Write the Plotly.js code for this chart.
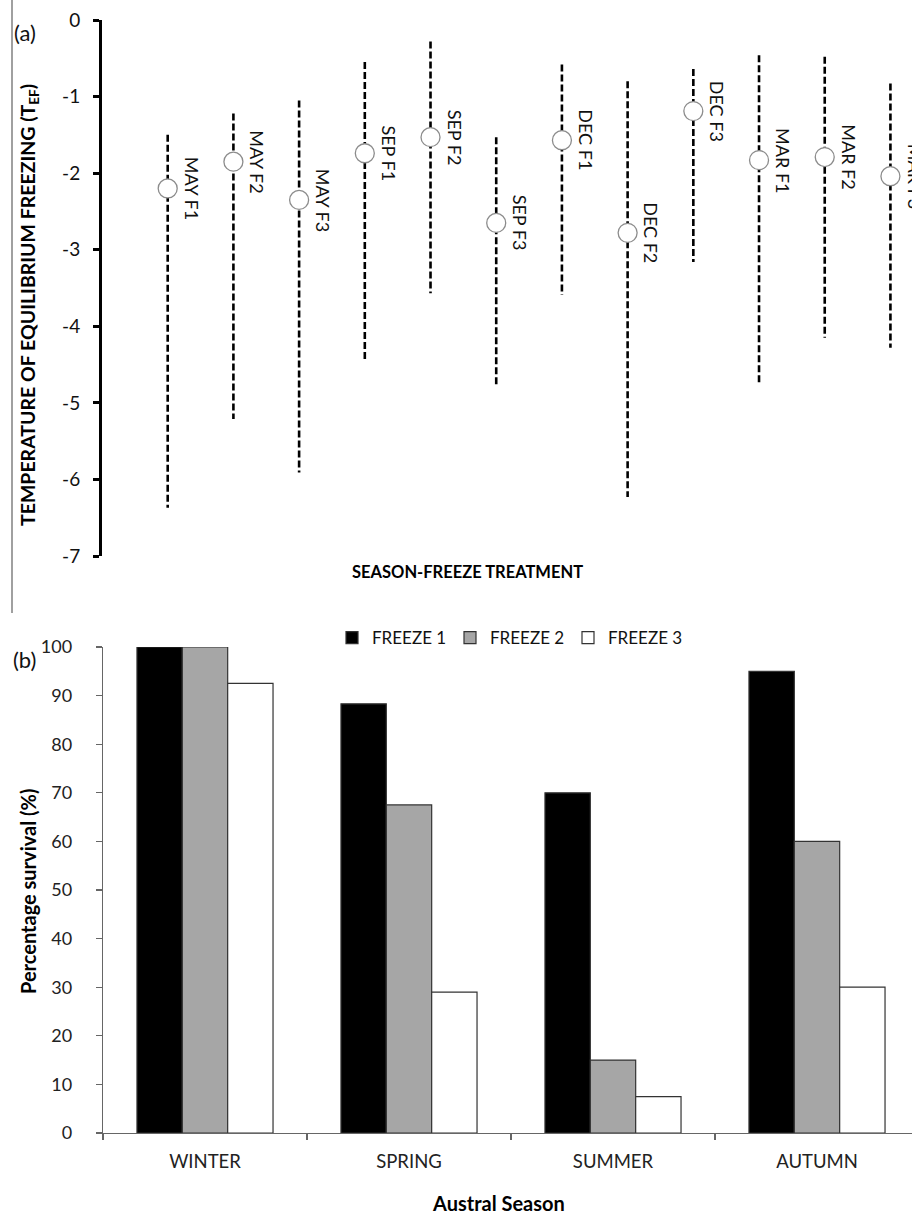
<!DOCTYPE html>
<html>
<head>
<meta charset="utf-8">
<script src="https://cdn.plot.ly/plotly-3.0.1.min.js"></script>
<style>
html, body { margin: 0; padding: 0; overflow: hidden; background: #fff; }
#chart { width: 920px; height: 1217px; }
</style>
</head>
<body>
<div id="chart"></div>
<script>
// ---- Panel (a): temperature of equilibrium freezing ----
const treatments = ['MAY F1','MAY F2','MAY F3','SEP F1','SEP F2','SEP F3','DEC F1','DEC F2','DEC F3','MAR F1','MAR F2','MAR F3'];
const tefMean    = [-2.20, -1.85, -2.35, -1.74, -1.53, -2.65, -1.57, -2.78, -1.19, -1.83, -1.79, -2.04];
const tefHigh    = [-1.50, -1.22, -1.05, -0.55, -0.28, -1.53, -0.58, -0.80, -0.64, -0.46, -0.48, -0.83];
const tefLow     = [-6.37, -5.21, -5.91, -4.43, -3.57, -4.79, -3.59, -6.23, -3.16, -4.75, -4.15, -4.28];
const tefTicks   = [0, -1, -2, -3, -4, -5, -6, -7];
const tefTickText = ['0', '-1', '-2', '-3', '-4', '-5', '-6', '-7'];

// ---- Panel (b): percentage survival ----
const seasons  = ['WINTER', 'SPRING', 'SUMMER', 'AUTUMN'];
const freeze1  = [100, 88.3, 70, 95];
const freeze2  = [100, 67.5, 15, 60];
const freeze3  = [92.5, 29, 7.5, 30];
const freezeNames = ['FREEZE 1', 'FREEZE 2', 'FREEZE 3'];
const survivalTicks = [0,10,20,30,40,50,60,70,80,90,100];

const W = 920, H = 1217;
const px = v => v / W;
const py = v => 1 - v / H;
const FONT = 'Lato, "Open Sans", sans-serif';

// range lines (dashed) built from the high/low arrays
const rx = [], ry = [];
treatments.forEach((t, i) => { rx.push(t, t, null); ry.push(tefHigh[i], tefLow[i], null); });

const traces = [
  { type: 'scatter', mode: 'lines', x: rx, y: ry, xaxis: 'x', yaxis: 'y',
    line: { color: '#000', width: 2.6, dash: '7px,3px' }, showlegend: false, hoverinfo: 'skip' },
  { type: 'scatter', mode: 'markers', x: treatments, y: tefMean, xaxis: 'x', yaxis: 'y',
    marker: { size: 19, color: '#fff', line: { color: '#8c8c8c', width: 1.3 } }, showlegend: false },
  { type: 'bar', name: freezeNames[0], x: seasons, y: freeze1, xaxis: 'x2', yaxis: 'y2',
    marker: { color: '#000', line: { color: '#333', width: 1.2 } } },
  { type: 'bar', name: freezeNames[1], x: seasons, y: freeze2, xaxis: 'x2', yaxis: 'y2',
    marker: { color: '#a6a6a6', line: { color: '#333', width: 1.2 } } },
  { type: 'bar', name: freezeNames[2], x: seasons, y: freeze3, xaxis: 'x2', yaxis: 'y2',
    marker: { color: '#fff', line: { color: '#333', width: 1.2 } } }
];

const annotations = [];
treatments.forEach((t, i) => {
  annotations.push({ xref: 'x', yref: 'y', x: t, y: tefMean[i], text: t, showarrow: false,
    textangle: 90, xshift: 24, font: { family: FONT, size: 18, color: '#111' } });
});
annotations.push(
  { xref: 'paper', yref: 'paper', x: px(12), y: py(32), xanchor: 'left', yanchor: 'middle',
    text: '(a)', showarrow: false, font: { family: FONT, size: 22, color: '#111' } },
  { xref: 'paper', yref: 'paper', x: px(11), y: py(659), xanchor: 'left', yanchor: 'middle',
    text: '(b)', showarrow: false, font: { family: FONT, size: 22, color: '#111' } },
  { xref: 'paper', yref: 'paper', x: px(29), y: py(305), xanchor: 'center', yanchor: 'middle',
    textangle: -90, text: '<b>TEMPERATURE OF EQUILIBRIUM FREEZING (T<sub>EF</sub>)</b>', showarrow: false,
    font: { family: FONT, size: 19.5, color: '#000' } },
  { xref: 'paper', yref: 'paper', x: px(468), y: py(572), xanchor: 'center', yanchor: 'middle',
    text: '<b>SEASON-FREEZE TREATMENT</b>', showarrow: false, font: { family: FONT, size: 16.5, color: '#000' } },
  { xref: 'paper', yref: 'paper', x: px(28), y: py(892), xanchor: 'center', yanchor: 'middle',
    textangle: -90, text: '<b>Percentage survival (%)</b>', showarrow: false,
    font: { family: FONT, size: 20, color: '#000' } },
  { xref: 'paper', yref: 'paper', x: px(498), y: py(1203), xanchor: 'center', yanchor: 'middle',
    text: '<b>Austral Season</b>', showarrow: false, font: { family: FONT, size: 20, color: '#000' } }
);

const layout = {
  width: W, height: H,
  margin: { l: 0, r: 0, t: 0, b: 0 },
  paper_bgcolor: '#fff', plot_bgcolor: 'rgba(0,0,0,0)',
  font: { family: FONT, color: '#111' },
  hovermode: false,
  bargap: 0.333, bargroupgap: 0,
  xaxis: { domain: [px(102), 1], type: 'category', range: [-1, 11.45],
    showline: false, showticklabels: false, showgrid: false, zeroline: false, ticks: '' },
  yaxis: { domain: [py(556), py(20)], range: [-7, 0], tickvals: tefTicks, ticktext: tefTickText,
    showline: true, linecolor: '#000', linewidth: 3, ticks: 'outside', ticklen: 6, tickwidth: 3, tickcolor: '#000',
    showgrid: false, zeroline: false, ticklabelstandoff: 9,
    tickfont: { family: FONT, size: 19, color: '#111' } },
  xaxis2: { domain: [px(103), px(919)], anchor: 'y2', type: 'category', range: [-0.5, 3.5],
    showline: true, linecolor: '#666', linewidth: 1.3, ticks: 'outside', tickson: 'boundaries',
    ticklen: 6, tickwidth: 1.3, tickcolor: '#666', showgrid: false, zeroline: false, ticklabelstandoff: 11,
    tickfont: { family: FONT, size: 18.5, color: '#222' } },
  yaxis2: { domain: [py(1133), py(647)], anchor: 'x2', range: [0, 100], tickvals: survivalTicks,
    showline: true, linecolor: '#666', linewidth: 1.3, ticks: 'outside', ticklen: 6, tickwidth: 1.3, tickcolor: '#666',
    showgrid: false, zeroline: false, ticklabelstandoff: 20,
    tickfont: { family: FONT, size: 18, color: '#222' } },
  showlegend: true,
  legend: { orientation: 'h', x: px(332), xanchor: 'left', y: py(638), yanchor: 'middle', entrywidth: 73,
    bgcolor: 'rgba(0,0,0,0)', traceorder: 'normal', font: { family: FONT, size: 17, color: '#111' } },
  shapes: [
    { type: 'line', xref: 'paper', yref: 'paper', x0: px(12), x1: px(12), y0: py(613), y1: 1,
      line: { color: '#808080', width: 1.5 } }
  ],
  annotations: annotations
};

Plotly.newPlot('chart', traces, layout, { displayModeBar: false, staticPlot: true });
</script>
</body>
</html>
